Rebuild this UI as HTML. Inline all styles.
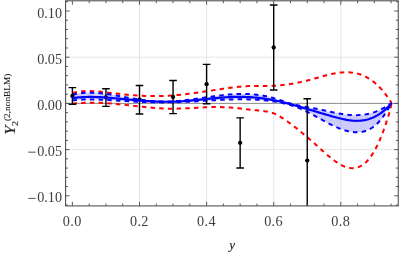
<!DOCTYPE html><html><head><meta charset="utf-8"><style>html,body{margin:0;padding:0;background:#fff}body{width:399px;height:256px;overflow:hidden;position:relative;font-family:"Liberation Serif",serif}</style></head><body><svg width="399" height="256" viewBox="0 0 399 256" style="position:absolute;left:0;top:0;will-change:transform"><defs><clipPath id="c"><rect x="65.60" y="0.80" width="332.65" height="205.10"/></clipPath></defs><g stroke="#e0e0e0" stroke-width="0.8" fill="none"><line x1="139.50" y1="0.80" x2="139.50" y2="205.90"/><line x1="206.60" y1="0.80" x2="206.60" y2="205.90"/><line x1="273.70" y1="0.80" x2="273.70" y2="205.90"/><line x1="340.80" y1="0.80" x2="340.80" y2="205.90"/><line x1="65.60" y1="57.20" x2="398.25" y2="57.20"/><line x1="65.60" y1="149.60" x2="398.25" y2="149.60"/></g><line x1="65.60" y1="103.40" x2="398.25" y2="103.40" stroke="#808080" stroke-width="0.9"/><g clip-path="url(#c)" stroke-linejoin="round"><path d="M72.50,94.68 L74.50,94.22 L76.50,93.82 L78.50,93.48 L80.50,93.21 L82.50,92.99 L84.50,92.83 L86.50,92.73 L88.50,92.67 L90.50,92.66 L92.50,92.70 L94.50,92.78 L96.50,92.89 L98.50,93.04 L100.50,93.23 L102.50,93.44 L104.50,93.69 L106.50,93.96 L108.50,94.25 L110.50,94.55 L112.50,94.88 L114.50,95.22 L116.50,95.57 L118.50,95.92 L120.50,96.29 L122.50,96.65 L124.50,97.01 L126.50,97.37 L128.50,97.73 L130.50,98.08 L132.50,98.43 L134.50,98.76 L136.50,99.08 L138.50,99.40 L140.50,99.69 L142.50,99.98 L144.50,100.24 L146.50,100.49 L148.50,100.71 L150.50,100.91 L152.50,101.09 L154.50,101.24 L156.50,101.37 L158.50,101.47 L160.50,101.53 L162.50,101.57 L164.50,101.57 L166.50,101.54 L168.50,101.49 L170.50,101.42 L172.50,101.31 L174.50,101.19 L176.50,101.04 L178.50,100.88 L180.50,100.69 L182.50,100.49 L184.50,100.27 L186.50,100.04 L188.50,99.80 L190.50,99.55 L192.50,99.28 L194.50,99.01 L196.50,98.74 L198.50,98.45 L200.50,98.17 L202.50,97.88 L204.50,97.59 L206.50,97.30 L208.50,97.01 L210.50,96.73 L212.50,96.45 L214.50,96.18 L216.50,95.92 L218.50,95.67 L220.50,95.43 L222.50,95.20 L224.50,94.98 L226.50,94.79 L228.50,94.60 L230.50,94.44 L232.50,94.30 L234.50,94.18 L236.50,94.08 L238.50,94.00 L240.50,93.95 L242.50,93.93 L244.50,93.94 L246.50,93.98 L248.50,94.05 L250.50,94.15 L252.50,94.29 L254.50,94.46 L256.50,94.68 L258.50,94.93 L260.50,95.22 L262.50,95.55 L264.50,95.93 L266.50,96.34 L268.50,96.79 L270.50,97.29 L272.50,97.82 L274.50,98.39 L276.50,98.99 L278.50,99.63 L280.50,100.30 L282.50,100.97 L284.50,101.65 L286.50,102.31 L288.50,102.95 L290.50,103.54 L292.50,104.10 L294.50,104.61 L296.50,105.08 L298.50,105.53 L300.50,105.94 L302.50,106.34 L304.50,106.71 L306.50,107.07 L308.50,107.43 L310.50,107.78 L312.50,108.13 L314.50,108.48 L316.50,108.85 L318.50,109.23 L320.50,109.63 L322.50,110.05 L324.50,110.48 L326.50,110.93 L328.50,111.38 L330.50,111.82 L332.50,112.25 L334.50,112.67 L336.50,113.07 L338.50,113.44 L340.50,113.79 L342.50,114.10 L344.50,114.39 L346.50,114.63 L348.50,114.84 L350.50,115.00 L352.50,115.11 L354.50,115.17 L356.50,115.17 L358.50,115.12 L360.50,115.00 L362.50,114.82 L364.50,114.57 L366.50,114.24 L368.50,113.84 L370.50,113.36 L372.50,112.80 L374.50,112.14 L376.50,111.40 L378.50,110.56 L380.00,109.87 L380.50,109.63 L381.00,109.38 L381.50,109.13 L382.00,108.87 L382.50,108.60 L383.00,108.33 L383.50,108.06 L384.00,107.78 L384.50,107.49 L385.00,107.20 L385.50,106.91 L386.00,106.61 L386.50,106.30 L387.00,106.00 L387.50,105.69 L388.00,105.37 L388.50,105.05 L389.00,104.73 L389.50,104.40 L390.00,104.07 L390.50,103.74 L391.00,103.41 L391.50,103.07 L391.60,103.00 L391.60,103.00 L391.50,103.18 L391.00,104.06 L390.50,104.94 L390.00,105.81 L389.50,106.67 L389.00,107.51 L388.50,108.35 L388.00,109.18 L387.50,109.99 L387.00,110.80 L386.50,111.59 L386.00,112.37 L385.50,113.13 L385.00,113.88 L384.50,114.62 L384.00,115.35 L383.50,116.06 L383.00,116.75 L382.50,117.43 L382.00,118.10 L381.50,118.75 L381.00,119.38 L380.50,119.99 L380.00,120.59 L378.50,122.28 L376.50,124.28 L374.50,126.01 L372.50,127.50 L370.50,128.75 L368.50,129.78 L366.50,130.62 L364.50,131.27 L362.50,131.76 L360.50,132.09 L358.50,132.28 L356.50,132.33 L354.50,132.25 L352.50,132.05 L350.50,131.74 L348.50,131.33 L346.50,130.83 L344.50,130.24 L342.50,129.58 L340.50,128.85 L338.50,128.05 L336.50,127.20 L334.50,126.29 L332.50,125.34 L330.50,124.35 L328.50,123.33 L326.50,122.27 L324.50,121.20 L322.50,120.10 L320.50,119.00 L318.50,117.89 L316.50,116.79 L314.50,115.69 L312.50,114.60 L310.50,113.53 L308.50,112.49 L306.50,111.48 L304.50,110.50 L302.50,109.57 L300.50,108.69 L298.50,107.86 L296.50,107.08 L294.50,106.36 L292.50,105.68 L290.50,105.06 L288.50,104.48 L286.50,103.94 L284.50,103.45 L282.50,102.99 L280.50,102.57 L278.50,102.19 L276.50,101.83 L274.50,101.51 L272.50,101.22 L270.50,100.95 L268.50,100.71 L266.50,100.49 L264.50,100.29 L262.50,100.11 L260.50,99.95 L258.50,99.81 L256.50,99.69 L254.50,99.59 L252.50,99.51 L250.50,99.44 L248.50,99.38 L246.50,99.35 L244.50,99.32 L242.50,99.31 L240.50,99.32 L238.50,99.33 L236.50,99.36 L234.50,99.40 L232.50,99.45 L230.50,99.50 L228.50,99.57 L226.50,99.65 L224.50,99.73 L222.50,99.82 L220.50,99.92 L218.50,100.02 L216.50,100.13 L214.50,100.24 L212.50,100.35 L210.50,100.47 L208.50,100.59 L206.50,100.71 L204.50,100.83 L202.50,100.95 L200.50,101.08 L198.50,101.20 L196.50,101.31 L194.50,101.43 L192.50,101.54 L190.50,101.65 L188.50,101.75 L186.50,101.85 L184.50,101.94 L182.50,102.02 L180.50,102.10 L178.50,102.17 L176.50,102.23 L174.50,102.28 L172.50,102.32 L170.50,102.35 L168.50,102.37 L166.50,102.39 L164.50,102.39 L162.50,102.38 L160.50,102.37 L158.50,102.35 L156.50,102.32 L154.50,102.28 L152.50,102.24 L150.50,102.18 L148.50,102.13 L146.50,102.06 L144.50,101.99 L142.50,101.91 L140.50,101.83 L138.50,101.74 L136.50,101.65 L134.50,101.55 L132.50,101.45 L130.50,101.34 L128.50,101.23 L126.50,101.12 L124.50,101.00 L122.50,100.88 L120.50,100.76 L118.50,100.63 L116.50,100.51 L114.50,100.38 L112.50,100.26 L110.50,100.14 L108.50,100.03 L106.50,99.92 L104.50,99.82 L102.50,99.73 L100.50,99.65 L98.50,99.58 L96.50,99.53 L94.50,99.49 L92.50,99.46 L90.50,99.46 L88.50,99.47 L86.50,99.50 L84.50,99.55 L82.50,99.62 L80.50,99.72 L78.50,99.85 L76.50,100.00 L74.50,100.17 L72.50,100.38 Z" fill="#0000ff" fill-opacity="0.2" stroke="none"/><path d="M72.50,93.00 L74.50,92.51 L76.50,92.11 L78.50,91.78 L80.50,91.52 L82.50,91.33 L84.50,91.20 L86.50,91.12 L88.50,91.10 L90.50,91.12 L92.50,91.19 L94.50,91.29 L96.50,91.43 L98.50,91.60 L100.50,91.78 L102.50,91.99 L104.50,92.21 L106.50,92.44 L108.50,92.68 L110.50,92.92 L112.50,93.15 L114.50,93.38 L116.50,93.60 L118.50,93.82 L120.50,94.03 L122.50,94.24 L124.50,94.44 L126.50,94.63 L128.50,94.81 L130.50,94.99 L132.50,95.15 L134.50,95.30 L136.50,95.44 L138.50,95.57 L140.50,95.69 L142.50,95.80 L144.50,95.89 L146.50,95.97 L148.50,96.03 L150.50,96.08 L152.50,96.11 L154.50,96.12 L156.50,96.12 L158.50,96.10 L160.50,96.06 L162.50,96.00 L164.50,95.92 L166.50,95.83 L168.50,95.72 L170.50,95.59 L172.50,95.44 L174.50,95.29 L176.50,95.11 L178.50,94.93 L180.50,94.73 L182.50,94.52 L184.50,94.30 L186.50,94.07 L188.50,93.82 L190.50,93.57 L192.50,93.31 L194.50,93.04 L196.50,92.76 L198.50,92.48 L200.50,92.19 L202.50,91.90 L204.50,91.60 L206.50,91.30 L208.50,90.99 L210.50,90.68 L212.50,90.37 L214.50,90.06 L216.50,89.75 L218.50,89.44 L220.50,89.14 L222.50,88.84 L224.50,88.55 L226.50,88.27 L228.50,88.00 L230.50,87.73 L232.50,87.48 L234.50,87.25 L236.50,87.02 L238.50,86.82 L240.50,86.63 L242.50,86.46 L244.50,86.32 L246.50,86.19 L248.50,86.09 L250.50,86.01 L252.50,85.96 L254.50,85.93 L256.50,85.91 L258.50,85.91 L260.50,85.91 L262.50,85.91 L264.50,85.91 L266.50,85.90 L268.50,85.89 L270.50,85.85 L272.50,85.80 L274.50,85.72 L276.50,85.61 L278.50,85.46 L280.50,85.29 L282.50,85.09 L284.50,84.87 L286.50,84.61 L288.50,84.33 L290.50,84.02 L292.50,83.69 L294.50,83.33 L296.50,82.95 L298.50,82.54 L300.50,82.11 L302.50,81.67 L304.50,81.20 L306.50,80.71 L308.50,80.20 L310.50,79.67 L312.50,79.13 L314.50,78.57 L316.50,78.00 L318.50,77.43 L320.50,76.87 L322.50,76.31 L324.50,75.77 L326.50,75.24 L328.50,74.74 L330.50,74.27 L332.50,73.84 L334.50,73.44 L336.50,73.10 L338.50,72.80 L340.50,72.56 L342.50,72.39 L344.50,72.28 L346.50,72.25 L348.50,72.29 L350.50,72.42 L352.50,72.64 L354.50,72.96 L356.50,73.37 L358.50,73.90 L360.50,74.53 L362.50,75.28 L364.50,76.16 L366.50,77.17 L368.50,78.30 L370.50,79.58 L372.50,81.01 L374.50,82.58 L376.50,84.31 L378.50,86.21 L380.00,87.74 L380.50,88.27 L381.00,88.81 L381.50,89.36 L382.00,89.93 L382.50,90.50 L383.00,91.09 L383.50,91.68 L384.00,92.29 L384.50,92.91 L385.00,93.54 L385.50,94.19 L386.00,94.84 L386.50,95.51 L387.00,96.19 L387.50,96.88 L388.00,97.58 L388.50,98.29 L389.00,99.02 L389.50,99.76 L390.00,100.51 L390.50,101.27 L391.00,102.05 L391.50,102.84 L391.60,103.00" fill="none" stroke="#ff0000" stroke-width="2.0" stroke-dasharray="4.5 4.2"/><path d="M72.50,103.81 L74.50,103.57 L76.50,103.35 L78.50,103.17 L80.50,103.01 L82.50,102.89 L84.50,102.79 L86.50,102.71 L88.50,102.67 L90.50,102.64 L92.50,102.64 L94.50,102.66 L96.50,102.70 L98.50,102.76 L100.50,102.84 L102.50,102.94 L104.50,103.05 L106.50,103.18 L108.50,103.32 L110.50,103.47 L112.50,103.64 L114.50,103.82 L116.50,104.00 L118.50,104.20 L120.50,104.40 L122.50,104.61 L124.50,104.83 L126.50,105.04 L128.50,105.27 L130.50,105.49 L132.50,105.71 L134.50,105.94 L136.50,106.16 L138.50,106.38 L140.50,106.60 L142.50,106.81 L144.50,107.01 L146.50,107.21 L148.50,107.40 L150.50,107.59 L152.50,107.76 L154.50,107.92 L156.50,108.07 L158.50,108.20 L160.50,108.32 L162.50,108.42 L164.50,108.51 L166.50,108.58 L168.50,108.63 L170.50,108.66 L172.50,108.67 L174.50,108.66 L176.50,108.63 L178.50,108.59 L180.50,108.53 L182.50,108.46 L184.50,108.38 L186.50,108.29 L188.50,108.19 L190.50,108.09 L192.50,107.98 L194.50,107.88 L196.50,107.77 L198.50,107.66 L200.50,107.56 L202.50,107.46 L204.50,107.37 L206.50,107.29 L208.50,107.22 L210.50,107.16 L212.50,107.12 L214.50,107.09 L216.50,107.08 L218.50,107.08 L220.50,107.11 L222.50,107.17 L224.50,107.24 L226.50,107.34 L228.50,107.46 L230.50,107.60 L232.50,107.76 L234.50,107.93 L236.50,108.11 L238.50,108.31 L240.50,108.52 L242.50,108.73 L244.50,108.95 L246.50,109.18 L248.50,109.41 L250.50,109.65 L252.50,109.88 L254.50,110.11 L256.50,110.34 L258.50,110.57 L260.50,110.79 L262.50,111.00 L264.50,111.25 L266.50,111.53 L268.50,111.90 L270.50,112.35 L272.50,112.94 L274.50,113.66 L276.50,114.56 L278.50,115.61 L280.50,116.79 L282.50,118.07 L284.50,119.41 L286.50,120.80 L288.50,122.23 L290.50,123.70 L292.50,125.20 L294.50,126.73 L296.50,128.30 L298.50,129.89 L300.50,131.51 L302.50,133.16 L304.50,134.83 L306.50,136.53 L308.50,138.24 L310.50,139.97 L312.50,141.72 L314.50,143.49 L316.50,145.27 L318.50,147.06 L320.50,148.86 L322.50,150.66 L324.50,152.45 L326.50,154.21 L328.50,155.93 L330.50,157.60 L332.50,159.19 L334.50,160.70 L336.50,162.12 L338.50,163.42 L340.50,164.59 L342.50,165.63 L344.50,166.51 L346.50,167.22 L348.50,167.74 L350.50,168.07 L352.50,168.18 L354.50,168.07 L356.50,167.71 L358.50,167.10 L360.50,166.21 L362.50,165.02 L364.50,163.52 L366.50,161.70 L368.50,159.53 L370.50,157.00 L372.50,154.09 L374.50,150.79 L376.50,147.08 L378.50,142.94 L380.00,139.55 L380.50,138.36 L381.00,137.14 L381.50,135.90 L382.00,134.63 L382.50,133.33 L383.00,132.00 L383.50,130.64 L384.00,129.26 L384.50,127.85 L385.00,126.41 L385.50,124.94 L386.00,123.45 L386.50,121.93 L387.00,120.38 L387.50,118.80 L388.00,117.20 L388.50,115.57 L389.00,113.90 L389.50,112.15 L390.00,110.28 L390.50,108.25 L391.00,106.02 L391.50,103.53 L391.60,103.00" fill="none" stroke="#ff0000" stroke-width="2.0" stroke-dasharray="4.5 4.2"/><path d="M72.50,94.68 L74.50,94.22 L76.50,93.82 L78.50,93.48 L80.50,93.21 L82.50,92.99 L84.50,92.83 L86.50,92.73 L88.50,92.67 L90.50,92.66 L92.50,92.70 L94.50,92.78 L96.50,92.89 L98.50,93.04 L100.50,93.23 L102.50,93.44 L104.50,93.69 L106.50,93.96 L108.50,94.25 L110.50,94.55 L112.50,94.88 L114.50,95.22 L116.50,95.57 L118.50,95.92 L120.50,96.29 L122.50,96.65 L124.50,97.01 L126.50,97.37 L128.50,97.73 L130.50,98.08 L132.50,98.43 L134.50,98.76 L136.50,99.08 L138.50,99.40 L140.50,99.69 L142.50,99.98 L144.50,100.24 L146.50,100.49 L148.50,100.71 L150.50,100.91 L152.50,101.09 L154.50,101.24 L156.50,101.37 L158.50,101.47 L160.50,101.53 L162.50,101.57 L164.50,101.57 L166.50,101.54 L168.50,101.49 L170.50,101.42 L172.50,101.31 L174.50,101.19 L176.50,101.04 L178.50,100.88 L180.50,100.69 L182.50,100.49 L184.50,100.27 L186.50,100.04 L188.50,99.80 L190.50,99.55 L192.50,99.28 L194.50,99.01 L196.50,98.74 L198.50,98.45 L200.50,98.17 L202.50,97.88 L204.50,97.59 L206.50,97.30 L208.50,97.01 L210.50,96.73 L212.50,96.45 L214.50,96.18 L216.50,95.92 L218.50,95.67 L220.50,95.43 L222.50,95.20 L224.50,94.98 L226.50,94.79 L228.50,94.60 L230.50,94.44 L232.50,94.30 L234.50,94.18 L236.50,94.08 L238.50,94.00 L240.50,93.95 L242.50,93.93 L244.50,93.94 L246.50,93.98 L248.50,94.05 L250.50,94.15 L252.50,94.29 L254.50,94.46 L256.50,94.68 L258.50,94.93 L260.50,95.22 L262.50,95.55 L264.50,95.93 L266.50,96.34 L268.50,96.79 L270.50,97.29 L272.50,97.82 L274.50,98.39 L276.50,98.99 L278.50,99.63 L280.50,100.30 L282.50,100.97 L284.50,101.65 L286.50,102.31 L288.50,102.95 L290.50,103.54 L292.50,104.10 L294.50,104.61 L296.50,105.08 L298.50,105.53 L300.50,105.94 L302.50,106.34 L304.50,106.71 L306.50,107.07 L308.50,107.43 L310.50,107.78 L312.50,108.13 L314.50,108.48 L316.50,108.85 L318.50,109.23 L320.50,109.63 L322.50,110.05 L324.50,110.48 L326.50,110.93 L328.50,111.38 L330.50,111.82 L332.50,112.25 L334.50,112.67 L336.50,113.07 L338.50,113.44 L340.50,113.79 L342.50,114.10 L344.50,114.39 L346.50,114.63 L348.50,114.84 L350.50,115.00 L352.50,115.11 L354.50,115.17 L356.50,115.17 L358.50,115.12 L360.50,115.00 L362.50,114.82 L364.50,114.57 L366.50,114.24 L368.50,113.84 L370.50,113.36 L372.50,112.80 L374.50,112.14 L376.50,111.40 L378.50,110.56 L380.00,109.87 L380.50,109.63 L381.00,109.38 L381.50,109.13 L382.00,108.87 L382.50,108.60 L383.00,108.33 L383.50,108.06 L384.00,107.78 L384.50,107.49 L385.00,107.20 L385.50,106.91 L386.00,106.61 L386.50,106.30 L387.00,106.00 L387.50,105.69 L388.00,105.37 L388.50,105.05 L389.00,104.73 L389.50,104.40 L390.00,104.07 L390.50,103.74 L391.00,103.41 L391.50,103.07 L391.60,103.00" fill="none" stroke="#0000ff" stroke-width="2.0" stroke-dasharray="4.5 4.2"/><path d="M72.50,100.38 L74.50,100.17 L76.50,100.00 L78.50,99.85 L80.50,99.72 L82.50,99.62 L84.50,99.55 L86.50,99.50 L88.50,99.47 L90.50,99.46 L92.50,99.46 L94.50,99.49 L96.50,99.53 L98.50,99.58 L100.50,99.65 L102.50,99.73 L104.50,99.82 L106.50,99.92 L108.50,100.03 L110.50,100.14 L112.50,100.26 L114.50,100.38 L116.50,100.51 L118.50,100.63 L120.50,100.76 L122.50,100.88 L124.50,101.00 L126.50,101.12 L128.50,101.23 L130.50,101.34 L132.50,101.45 L134.50,101.55 L136.50,101.65 L138.50,101.74 L140.50,101.83 L142.50,101.91 L144.50,101.99 L146.50,102.06 L148.50,102.13 L150.50,102.18 L152.50,102.24 L154.50,102.28 L156.50,102.32 L158.50,102.35 L160.50,102.37 L162.50,102.38 L164.50,102.39 L166.50,102.39 L168.50,102.37 L170.50,102.35 L172.50,102.32 L174.50,102.28 L176.50,102.23 L178.50,102.17 L180.50,102.10 L182.50,102.02 L184.50,101.94 L186.50,101.85 L188.50,101.75 L190.50,101.65 L192.50,101.54 L194.50,101.43 L196.50,101.31 L198.50,101.20 L200.50,101.08 L202.50,100.95 L204.50,100.83 L206.50,100.71 L208.50,100.59 L210.50,100.47 L212.50,100.35 L214.50,100.24 L216.50,100.13 L218.50,100.02 L220.50,99.92 L222.50,99.82 L224.50,99.73 L226.50,99.65 L228.50,99.57 L230.50,99.50 L232.50,99.45 L234.50,99.40 L236.50,99.36 L238.50,99.33 L240.50,99.32 L242.50,99.31 L244.50,99.32 L246.50,99.35 L248.50,99.38 L250.50,99.44 L252.50,99.51 L254.50,99.59 L256.50,99.69 L258.50,99.81 L260.50,99.95 L262.50,100.11 L264.50,100.29 L266.50,100.49 L268.50,100.71 L270.50,100.95 L272.50,101.22 L274.50,101.51 L276.50,101.83 L278.50,102.19 L280.50,102.57 L282.50,102.99 L284.50,103.45 L286.50,103.94 L288.50,104.48 L290.50,105.06 L292.50,105.68 L294.50,106.36 L296.50,107.08 L298.50,107.86 L300.50,108.69 L302.50,109.57 L304.50,110.50 L306.50,111.48 L308.50,112.49 L310.50,113.53 L312.50,114.60 L314.50,115.69 L316.50,116.79 L318.50,117.89 L320.50,119.00 L322.50,120.10 L324.50,121.20 L326.50,122.27 L328.50,123.33 L330.50,124.35 L332.50,125.34 L334.50,126.29 L336.50,127.20 L338.50,128.05 L340.50,128.85 L342.50,129.58 L344.50,130.24 L346.50,130.83 L348.50,131.33 L350.50,131.74 L352.50,132.05 L354.50,132.25 L356.50,132.33 L358.50,132.28 L360.50,132.09 L362.50,131.76 L364.50,131.27 L366.50,130.62 L368.50,129.78 L370.50,128.75 L372.50,127.50 L374.50,126.01 L376.50,124.28 L378.50,122.28 L380.00,120.59 L380.50,119.99 L381.00,119.38 L381.50,118.75 L382.00,118.10 L382.50,117.43 L383.00,116.75 L383.50,116.06 L384.00,115.35 L384.50,114.62 L385.00,113.88 L385.50,113.13 L386.00,112.37 L386.50,111.59 L387.00,110.80 L387.50,109.99 L388.00,109.18 L388.50,108.35 L389.00,107.51 L389.50,106.67 L390.00,105.81 L390.50,104.94 L391.00,104.06 L391.50,103.18 L391.60,103.00" fill="none" stroke="#0000ff" stroke-width="2.0" stroke-dasharray="4.5 4.2"/><g stroke="#000" stroke-width="1.4" fill="none"><line x1="72.40" y1="87.60" x2="72.40" y2="104.25"/><line x1="68.60" y1="87.60" x2="76.20" y2="87.60"/><line x1="68.60" y1="104.25" x2="76.20" y2="104.25"/><line x1="105.95" y1="88.70" x2="105.95" y2="106.40"/><line x1="102.15" y1="88.70" x2="109.75" y2="88.70"/><line x1="102.15" y1="106.40" x2="109.75" y2="106.40"/><line x1="139.50" y1="85.50" x2="139.50" y2="114.00"/><line x1="135.70" y1="85.50" x2="143.30" y2="85.50"/><line x1="135.70" y1="114.00" x2="143.30" y2="114.00"/><line x1="173.05" y1="80.50" x2="173.05" y2="113.60"/><line x1="169.25" y1="80.50" x2="176.85" y2="80.50"/><line x1="169.25" y1="113.60" x2="176.85" y2="113.60"/><line x1="206.60" y1="64.40" x2="206.60" y2="103.75"/><line x1="202.80" y1="64.40" x2="210.40" y2="64.40"/><line x1="202.80" y1="103.75" x2="210.40" y2="103.75"/><line x1="240.15" y1="117.85" x2="240.15" y2="168.00"/><line x1="236.35" y1="117.85" x2="243.95" y2="117.85"/><line x1="236.35" y1="168.00" x2="243.95" y2="168.00"/><line x1="273.70" y1="5.00" x2="273.70" y2="90.00"/><line x1="269.90" y1="5.00" x2="277.50" y2="5.00"/><line x1="269.90" y1="90.00" x2="277.50" y2="90.00"/><line x1="307.25" y1="98.75" x2="307.25" y2="300.00"/><line x1="303.45" y1="98.75" x2="311.05" y2="98.75"/><line x1="303.45" y1="300.00" x2="311.05" y2="300.00"/></g><g fill="#000"><circle cx="72.40" cy="96.00" r="2.15"/><circle cx="105.95" cy="97.30" r="2.15"/><circle cx="139.50" cy="99.60" r="2.15"/><circle cx="173.05" cy="97.00" r="2.15"/><circle cx="206.60" cy="84.20" r="2.15"/><circle cx="240.15" cy="142.80" r="2.15"/><circle cx="273.70" cy="47.50" r="2.15"/><circle cx="307.25" cy="160.60" r="2.15"/></g><path d="M72.50,98.17 L74.50,97.90 L76.50,97.66 L78.50,97.46 L80.50,97.30 L82.50,97.17 L84.50,97.07 L86.50,97.00 L88.50,96.96 L90.50,96.94 L92.50,96.96 L94.50,96.99 L96.50,97.04 L98.50,97.12 L100.50,97.22 L102.50,97.33 L104.50,97.45 L106.50,97.59 L108.50,97.75 L110.50,97.91 L112.50,98.08 L114.50,98.26 L116.50,98.44 L118.50,98.63 L120.50,98.82 L122.50,99.01 L124.50,99.20 L126.50,99.39 L128.50,99.58 L130.50,99.76 L132.50,99.94 L134.50,100.12 L136.50,100.29 L138.50,100.45 L140.50,100.61 L142.50,100.76 L144.50,100.90 L146.50,101.04 L148.50,101.16 L150.50,101.28 L152.50,101.38 L154.50,101.47 L156.50,101.55 L158.50,101.62 L160.50,101.68 L162.50,101.72 L164.50,101.75 L166.50,101.76 L168.50,101.75 L170.50,101.73 L172.50,101.69 L174.50,101.64 L176.50,101.56 L178.50,101.47 L180.50,101.36 L182.50,101.23 L184.50,101.09 L186.50,100.94 L188.50,100.78 L190.50,100.60 L192.50,100.42 L194.50,100.23 L196.50,100.04 L198.50,99.83 L200.50,99.63 L202.50,99.42 L204.50,99.22 L206.50,99.01 L208.50,98.81 L210.50,98.60 L212.50,98.41 L214.50,98.22 L216.50,98.03 L218.50,97.86 L220.50,97.69 L222.50,97.53 L224.50,97.39 L226.50,97.26 L228.50,97.15 L230.50,97.05 L232.50,96.97 L234.50,96.91 L236.50,96.87 L238.50,96.85 L240.50,96.85 L242.50,96.87 L244.50,96.92 L246.50,96.99 L248.50,97.08 L250.50,97.19 L252.50,97.33 L254.50,97.49 L256.50,97.67 L258.50,97.88 L260.50,98.12 L262.50,98.38 L264.50,98.66 L266.50,98.97 L268.50,99.30 L270.50,99.66 L272.50,100.03 L274.50,100.43 L276.50,100.85 L278.50,101.28 L280.50,101.74 L282.50,102.20 L284.50,102.69 L286.50,103.19 L288.50,103.70 L290.50,104.23 L292.50,104.76 L294.50,105.31 L296.50,105.87 L298.50,106.43 L300.50,107.01 L302.50,107.59 L304.50,108.18 L306.50,108.77 L308.50,109.36 L310.50,109.96 L312.50,110.56 L314.50,111.16 L316.50,111.76 L318.50,112.36 L320.50,112.96 L322.50,113.55 L324.50,114.14 L326.50,114.73 L328.50,115.31 L330.50,115.88 L332.50,116.45 L334.50,117.00 L336.50,117.54 L338.50,118.06 L340.50,118.55 L342.50,119.01 L344.50,119.43 L346.50,119.81 L348.50,120.13 L350.50,120.40 L352.50,120.60 L354.50,120.73 L356.50,120.79 L358.50,120.76 L360.50,120.65 L362.50,120.44 L364.50,120.13 L366.50,119.72 L368.50,119.20 L370.50,118.55 L372.50,117.78 L374.50,116.88 L376.50,115.85 L378.50,114.67 L380.00,113.69 L380.50,113.35 L381.00,112.99 L381.50,112.62 L382.00,112.25 L382.50,111.86 L383.00,111.47 L383.50,111.06 L384.00,110.65 L384.50,110.22 L385.00,109.78 L385.50,109.34 L386.00,108.88 L386.50,108.41 L387.00,107.93 L387.50,107.44 L388.00,106.94 L388.50,106.43 L389.00,105.91 L389.50,105.37 L390.00,104.83 L390.50,104.27 L391.00,103.70 L391.50,103.12 L391.60,103.00" fill="none" stroke="#0000ff" stroke-width="2.2"/></g><g stroke="#4a4a4a" stroke-width="0.9" fill="none"><line x1="72.40" y1="205.90" x2="72.40" y2="201.90"/><line x1="72.40" y1="0.80" x2="72.40" y2="4.80"/><line x1="89.18" y1="205.90" x2="89.18" y2="203.50"/><line x1="89.18" y1="0.80" x2="89.18" y2="3.20"/><line x1="105.95" y1="205.90" x2="105.95" y2="203.50"/><line x1="105.95" y1="0.80" x2="105.95" y2="3.20"/><line x1="122.73" y1="205.90" x2="122.73" y2="203.50"/><line x1="122.73" y1="0.80" x2="122.73" y2="3.20"/><line x1="139.50" y1="205.90" x2="139.50" y2="201.90"/><line x1="139.50" y1="0.80" x2="139.50" y2="4.80"/><line x1="156.28" y1="205.90" x2="156.28" y2="203.50"/><line x1="156.28" y1="0.80" x2="156.28" y2="3.20"/><line x1="173.05" y1="205.90" x2="173.05" y2="203.50"/><line x1="173.05" y1="0.80" x2="173.05" y2="3.20"/><line x1="189.83" y1="205.90" x2="189.83" y2="203.50"/><line x1="189.83" y1="0.80" x2="189.83" y2="3.20"/><line x1="206.60" y1="205.90" x2="206.60" y2="201.90"/><line x1="206.60" y1="0.80" x2="206.60" y2="4.80"/><line x1="223.38" y1="205.90" x2="223.38" y2="203.50"/><line x1="223.38" y1="0.80" x2="223.38" y2="3.20"/><line x1="240.15" y1="205.90" x2="240.15" y2="203.50"/><line x1="240.15" y1="0.80" x2="240.15" y2="3.20"/><line x1="256.93" y1="205.90" x2="256.93" y2="203.50"/><line x1="256.93" y1="0.80" x2="256.93" y2="3.20"/><line x1="273.70" y1="205.90" x2="273.70" y2="201.90"/><line x1="273.70" y1="0.80" x2="273.70" y2="4.80"/><line x1="290.48" y1="205.90" x2="290.48" y2="203.50"/><line x1="290.48" y1="0.80" x2="290.48" y2="3.20"/><line x1="307.25" y1="205.90" x2="307.25" y2="203.50"/><line x1="307.25" y1="0.80" x2="307.25" y2="3.20"/><line x1="324.02" y1="205.90" x2="324.02" y2="203.50"/><line x1="324.02" y1="0.80" x2="324.02" y2="3.20"/><line x1="340.80" y1="205.90" x2="340.80" y2="201.90"/><line x1="340.80" y1="0.80" x2="340.80" y2="4.80"/><line x1="357.58" y1="205.90" x2="357.58" y2="203.50"/><line x1="357.58" y1="0.80" x2="357.58" y2="3.20"/><line x1="374.35" y1="205.90" x2="374.35" y2="203.50"/><line x1="374.35" y1="0.80" x2="374.35" y2="3.20"/><line x1="391.12" y1="205.90" x2="391.12" y2="203.50"/><line x1="391.12" y1="0.80" x2="391.12" y2="3.20"/><line x1="65.60" y1="205.04" x2="68.00" y2="205.04"/><line x1="398.25" y1="205.04" x2="395.85" y2="205.04"/><line x1="65.60" y1="195.80" x2="69.60" y2="195.80"/><line x1="398.25" y1="195.80" x2="394.25" y2="195.80"/><line x1="65.60" y1="186.56" x2="68.00" y2="186.56"/><line x1="398.25" y1="186.56" x2="395.85" y2="186.56"/><line x1="65.60" y1="177.32" x2="68.00" y2="177.32"/><line x1="398.25" y1="177.32" x2="395.85" y2="177.32"/><line x1="65.60" y1="168.08" x2="68.00" y2="168.08"/><line x1="398.25" y1="168.08" x2="395.85" y2="168.08"/><line x1="65.60" y1="158.84" x2="68.00" y2="158.84"/><line x1="398.25" y1="158.84" x2="395.85" y2="158.84"/><line x1="65.60" y1="149.60" x2="69.60" y2="149.60"/><line x1="398.25" y1="149.60" x2="394.25" y2="149.60"/><line x1="65.60" y1="140.36" x2="68.00" y2="140.36"/><line x1="398.25" y1="140.36" x2="395.85" y2="140.36"/><line x1="65.60" y1="131.12" x2="68.00" y2="131.12"/><line x1="398.25" y1="131.12" x2="395.85" y2="131.12"/><line x1="65.60" y1="121.88" x2="68.00" y2="121.88"/><line x1="398.25" y1="121.88" x2="395.85" y2="121.88"/><line x1="65.60" y1="112.64" x2="68.00" y2="112.64"/><line x1="398.25" y1="112.64" x2="395.85" y2="112.64"/><line x1="65.60" y1="103.40" x2="69.60" y2="103.40"/><line x1="398.25" y1="103.40" x2="394.25" y2="103.40"/><line x1="65.60" y1="94.16" x2="68.00" y2="94.16"/><line x1="398.25" y1="94.16" x2="395.85" y2="94.16"/><line x1="65.60" y1="84.92" x2="68.00" y2="84.92"/><line x1="398.25" y1="84.92" x2="395.85" y2="84.92"/><line x1="65.60" y1="75.68" x2="68.00" y2="75.68"/><line x1="398.25" y1="75.68" x2="395.85" y2="75.68"/><line x1="65.60" y1="66.44" x2="68.00" y2="66.44"/><line x1="398.25" y1="66.44" x2="395.85" y2="66.44"/><line x1="65.60" y1="57.20" x2="69.60" y2="57.20"/><line x1="398.25" y1="57.20" x2="394.25" y2="57.20"/><line x1="65.60" y1="47.96" x2="68.00" y2="47.96"/><line x1="398.25" y1="47.96" x2="395.85" y2="47.96"/><line x1="65.60" y1="38.72" x2="68.00" y2="38.72"/><line x1="398.25" y1="38.72" x2="395.85" y2="38.72"/><line x1="65.60" y1="29.48" x2="68.00" y2="29.48"/><line x1="398.25" y1="29.48" x2="395.85" y2="29.48"/><line x1="65.60" y1="20.24" x2="68.00" y2="20.24"/><line x1="398.25" y1="20.24" x2="395.85" y2="20.24"/><line x1="65.60" y1="11.00" x2="69.60" y2="11.00"/><line x1="398.25" y1="11.00" x2="394.25" y2="11.00"/><line x1="65.60" y1="1.76" x2="68.00" y2="1.76"/><line x1="398.25" y1="1.76" x2="395.85" y2="1.76"/></g><rect x="65.60" y="0.80" width="332.65" height="205.10" fill="none" stroke="#4a4a4a" stroke-width="1.05"/><g font-family="Liberation Serif, serif" font-size="14.2" fill="#3c3c3c"><text x="62" y="17.50" text-anchor="end">0.10</text><text x="62" y="63.70" text-anchor="end">0.05</text><text x="62" y="109.90" text-anchor="end">0.00</text><text x="62" y="156.10" text-anchor="end">0.05</text><rect x="28.3" y="151.70" width="7.3" height="0.9" /><text x="62" y="202.30" text-anchor="end">0.10</text><rect x="28.3" y="197.90" width="7.3" height="0.9" /><text x="72.30" y="225.7" text-anchor="middle" letter-spacing="0.4">0.0</text><text x="139.40" y="225.7" text-anchor="middle" letter-spacing="0.4">0.2</text><text x="206.50" y="225.7" text-anchor="middle" letter-spacing="0.4">0.4</text><text x="273.60" y="225.7" text-anchor="middle" letter-spacing="0.4">0.6</text><text x="340.70" y="225.7" text-anchor="middle" letter-spacing="0.4">0.8</text></g><text x="232.2" y="248.8" text-anchor="middle" font-family="Liberation Serif, serif" font-style="italic" font-size="13" fill="#222" stroke="#222" stroke-width="0.15">y</text><g font-family="Liberation Serif, serif" fill="#222" stroke="#222" stroke-width="0.1"><text transform="translate(14.6,135.0) rotate(-90) scale(1.22,1)" font-size="14" font-style="italic">Y</text><text transform="translate(18.3,125.9) rotate(-90) scale(1.25,1)" font-size="8">2</text><text transform="translate(9.5,121) rotate(-90) scale(1.125,1)" font-size="8.3">(2,nonBLM)</text></g></svg></body></html>
